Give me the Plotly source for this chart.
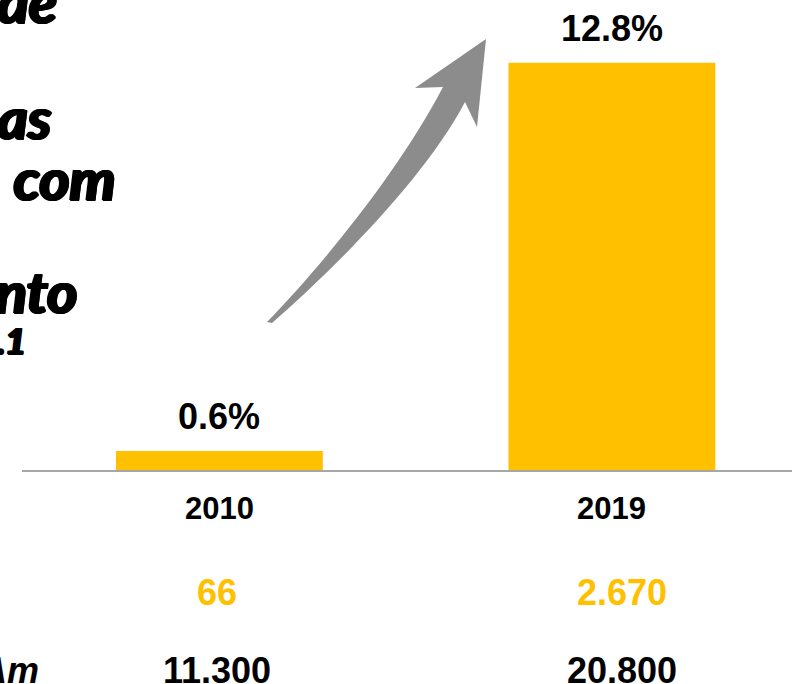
import plotly.graph_objects as go

# Chart data
years = ["2010", "2019"]
shares = [0.6, 12.8]                 # share, %
row_yellow = ["66", "2.670"]
row_black = ["11.300", "20.800"]

# Headline fragments (right ends of lines running in from the left)
headline = ["de", "as", "com", "nto"]

YELLOW = "#FFC000"
GREY = "#8C8C8C"
W, H = 792, 684
ML, MB = 22, 214          # plot area: left edge / bottom margin in px
PW, PH = W - ML, H - MB   # plot area size in px


def px_x(px):
    return (px - ML) / PW


def px_y(py):
    return (PH - py) / PH


fig = go.Figure()
fig.add_trace(go.Bar(
    x=years, y=shares, width=0.527,
    marker=dict(color=YELLOW, line=dict(width=0)),
    cliponaxis=False, hoverinfo="skip",
))

LABEL = dict(family="Liberation Sans", color="black")
ann = []
for i, (yr, v) in enumerate(zip(years, shares)):
    # value label above bar
    ann.append(dict(x=i, y=v, xref="x", yref="y", text=f"<b>{v:.1f}%</b>",
                    showarrow=False, yanchor="bottom", yshift=12,
                    font=dict(LABEL, size=36)))
    # year label under the axis
    ann.append(dict(x=i, y=px_y(508), xref="x", yref="paper", text=f"<b>{yr}</b>",
                    showarrow=False, yanchor="middle",
                    font=dict(LABEL, size=31)))

# figures rows
shifts = [-2, 10]
for i, (t, s) in enumerate(zip(row_yellow, shifts)):
    ann.append(dict(x=i, y=px_y(592), xref="x", yref="paper", text=f"<b>{t}</b>",
                    showarrow=False, yanchor="middle", xshift=s,
                    font=dict(family="Liberation Sans", size=36, color=YELLOW)))
for i, (t, s) in enumerate(zip(row_black, shifts)):
    ann.append(dict(x=i, y=px_y(670), xref="x", yref="paper", text=f"<b>{t}</b>",
                    showarrow=False, yanchor="middle", xshift=s,
                    font=dict(LABEL, size=36)))
ann.append(dict(x=px_x(41), y=px_y(670), xref="paper", yref="paper",
                text="<b><i>Am</i></b>", showarrow=False,
                xanchor="right", yanchor="middle",
                font=dict(LABEL, size=36)))

# headline fragments, heavy italic (text-shadow thickens the strokes)
HEAVY = ("1px 0px 0px black, 2px 0px 0px black, -1px 0px 0px black, "
         "0px 1px 0px black, 1px 1px 0px black, 2px 1px 0px black")
HEAD = dict(family="Lato", weight="bold", style="italic", color="black",
            shadow=HEAVY)
head_pos = [(59, 1), (53, 117), (117, 177), (79, 290)]
for t, (rx, cy) in zip(headline, head_pos):
    ann.append(dict(x=px_x(rx), y=px_y(cy), xref="paper", yref="paper",
                    text=t, showarrow=False,
                    xanchor="right", yanchor="middle",
                    font=dict(HEAD, size=58)))
ann.append(dict(x=px_x(27), y=px_y(340), xref="paper", yref="paper",
                text=".1", showarrow=False,
                xanchor="right", yanchor="middle",
                font=dict(HEAD, size=36)))


def pt(x, y):
    return f"{px_x(x):.5f},{px_y(y):.5f}"


# curved growth arrow
arrow_path = (
    f"M{pt(267, 322)} C{pt(320, 268)} {pt(400, 170)} {pt(443, 87)} "
    f"L{pt(415, 88)} L{pt(486, 39)} L{pt(477, 127)} L{pt(465, 102)} "
    f"C{pt(425, 178)} {pt(335, 268)} {pt(272, 323)} Z"
)

fig.update_layout(
    width=W, height=H,
    margin=dict(l=ML, r=0, t=0, b=MB, pad=0),
    paper_bgcolor="white", plot_bgcolor="white",
    showlegend=False,
    xaxis=dict(type="category", range=[-0.5029, 1.4588], showticklabels=False,
               showgrid=False, zeroline=False, ticks="",
               showline=True, linecolor="#A6A6A6", linewidth=2, fixedrange=True),
    yaxis=dict(range=[0, 14.77], visible=False, fixedrange=True),
    annotations=ann,
    shapes=[dict(type="path", xref="paper", yref="paper", path=arrow_path,
                 fillcolor=GREY, line=dict(width=0), layer="above")],
)

fig.write_html("out.html", config=dict(displayModeBar=False))
